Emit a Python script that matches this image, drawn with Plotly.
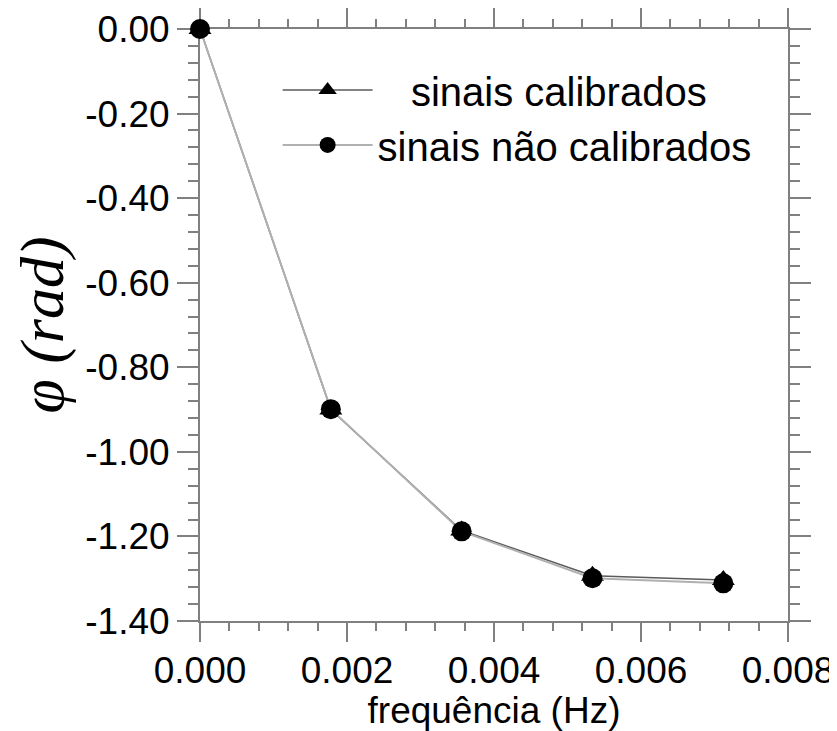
import plotly.graph_objects as go

# ---- data ----
freq = [0.0, 0.00178, 0.00356, 0.00534, 0.00712]
phase_calibrated = [0.0, -0.900, -1.186, -1.293, -1.303]
phase_uncalibrated = [0.0, -0.899, -1.188, -1.299, -1.311]

series_names = ["\u00a0\u00a0\u00a0sinais calibrados", "sinais não calibrados"]

x_tickvals = [0.0, 0.002, 0.004, 0.006, 0.008]
x_ticktext = ["0.000", "0.002", "0.004", "0.006", "0.008"]
y_tickvals = [0.0, -0.2, -0.4, -0.6, -0.8, -1.0, -1.2, -1.4]
y_ticktext = ["0.00", "-0.20", "-0.40", "-0.60", "-0.80", "-1.00", "-1.20", "-1.40"]

axis_gray = "#808080"
tick_font = dict(family="Liberation Sans, Arial, sans-serif", size=37, color="black")

fig = go.Figure()
fig.add_trace(go.Scatter(
    x=freq, y=phase_calibrated, name=series_names[0],
    mode="lines+markers", cliponaxis=False,
    line=dict(color="#5a5a5a", width=1.5),
    marker=dict(symbol="triangle-up", size=20, color="black"),
))
fig.add_trace(go.Scatter(
    x=freq, y=phase_uncalibrated, name=series_names[1],
    mode="lines+markers", cliponaxis=False,
    line=dict(color="#b0b0b0", width=2),
    marker=dict(symbol="circle", size=20, color="black"),
))

common_axis = dict(
    showline=True, linecolor=axis_gray, linewidth=2, mirror="allticks",
    ticks="outside", tickcolor=axis_gray, tickwidth=2,
    showgrid=False, zeroline=False, layer="below traces",
    tickfont=tick_font,
)

fig.update_xaxes(
    range=[0, 0.008], tickvals=x_tickvals, ticktext=x_ticktext,
    ticklen=19, ticklabelstandoff=-3,
    minor=dict(dtick=0.0004, ticklen=8, tickcolor=axis_gray, tickwidth=2, ticks="outside"),
    title=dict(text="frequência (Hz)", standoff=11,
               font=dict(family="Liberation Sans, Arial, sans-serif", size=37, color="black")),
    **common_axis,
)
fig.update_yaxes(
    range=[-1.4, 0], tickvals=y_tickvals, ticktext=y_ticktext,
    ticklen=21, ticklabelstandoff=0,
    minor=dict(dtick=0.04, ticklen=10, tickcolor=axis_gray, tickwidth=2, ticks="outside"),
    title=dict(text="<i>φ (rad)</i>", standoff=13,
               font=dict(family="Liberation Serif, Times New Roman, serif", size=62, color="black")),
    **common_axis,
)

fig.update_layout(
    width=829, height=723,
    margin=dict(l=192, r=49, t=21, b=110, autoexpand=False),
    paper_bgcolor="white", plot_bgcolor="white",
    showlegend=True,
    legend=dict(
        x=0.132, y=0.952, xanchor="left", yanchor="top",
        bgcolor="rgba(0,0,0,0)", borderwidth=0,
        itemwidth=90, tracegroupgap=0,
        font=dict(family="Liberation Sans, Arial, sans-serif", size=40, color="black"),
    ),
)

fig.write_html("out.html")
